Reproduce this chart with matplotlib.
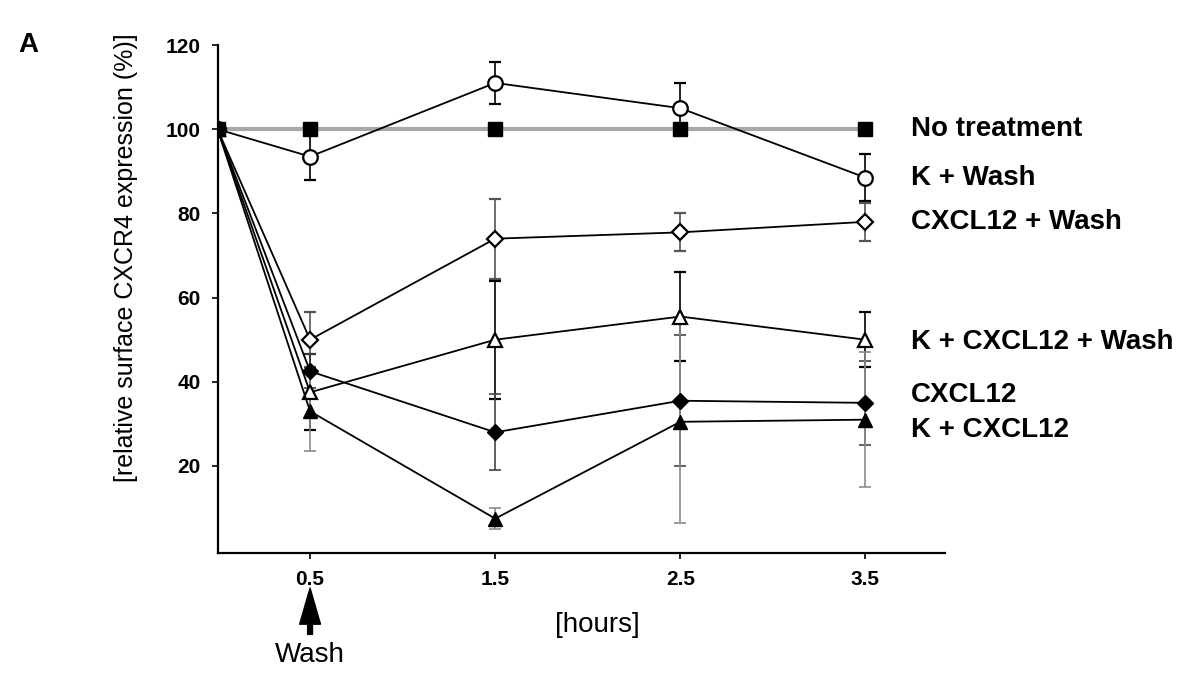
import matplotlib
matplotlib.use("Agg")
import matplotlib.pyplot as plt

plt.rcParams['font.family'] = ['Liberation Sans', 'DejaVu Sans']

# time points [hours]
hours = [0, 0.5, 1.5, 2.5, 3.5]
xtick_vals = [0.5, 1.5, 2.5, 3.5]
xtick_labels = ['0.5', '1.5', '2.5', '3.5']
ytick_vals = [20, 40, 60, 80, 100, 120]

# relative surface CXCR4 expression (%), mean and error
no_treat = [100, 100, 100, 100, 100]
k_wash = [100, 93.5, 111, 105, 88.5]
k_wash_err = [0, 5.5, 5, 6, 5.5]
cx_wash = [100, 50, 74, 75.5, 78]
cx_wash_err = [0, 6.5, 9.5, 4.5, 4.5]
k_cx_wash = [100, 37.5, 50, 55.5, 50]
k_cx_wash_err = [0, 9, 14, 10.5, 6.5]
cx = [100, 42.5, 28, 35.5, 35]
cx_err = [0, 4, 9, 15.5, 10]
k_cx = [100, 33, 7.5, 30.5, 31]
k_cx_err = [0, 9.5, 2.5, 24, 16]

names = ['No treatment', 'K + Wash', 'CXCL12 + Wash',
         'K + CXCL12 + Wash', 'CXCL12', 'K + CXCL12']

fig = plt.figure(figsize=(12.01, 6.73), dpi=100)
ax = fig.add_axes([0.1811, 0.1783, 0.6058, 0.7548])

# no treatment: thick grey line, black squares
ax.plot(hours, no_treat, color='#a8a8a8', lw=3, zorder=2)
ax.plot(hours[1:], no_treat[1:], ls='none', marker='s', ms=10, color='black', zorder=6)

common = dict(lw=1.3, capsize=4.5, capthick=1.2, elinewidth=1.2, color='black')
ax.errorbar(hours, k_wash, yerr=k_wash_err, marker='o', ms=10.5, mfc='white',
            mec='black', mew=1.6, ecolor='black', zorder=4, **common)
ax.errorbar(hours, cx_wash, yerr=cx_wash_err, marker='D', ms=8, mfc='white',
            mec='black', mew=1.6, ecolor='#555555', zorder=4, **common)
ax.errorbar(hours, k_cx_wash, yerr=k_cx_wash_err, marker='^', ms=10.5, mfc='white',
            mec='black', mew=1.6, ecolor='black', zorder=4, **common)
ax.errorbar(hours, cx, yerr=cx_err, marker='D', ms=8, mfc='black',
            mec='black', ecolor='#444444', zorder=4, **common)
ax.errorbar(hours, k_cx, yerr=k_cx_err, marker='^', ms=10.5, mfc='black',
            mec='black', ecolor='#8a8a8a', zorder=4, **common)
# starting point marker on top
ax.plot(hours[:1], no_treat[:1], ls='none', marker='s', ms=10, color='black', zorder=7)

ax.set_xlim(0, 3.93)
ax.set_ylim(-0.67, 120)
ax.set_xticks(xtick_vals)
ax.set_xticklabels(xtick_labels)
ax.set_yticks(ytick_vals)
for s in ['top', 'right']:
    ax.spines[s].set_visible(False)
for s in ['left', 'bottom']:
    ax.spines[s].set_linewidth(1.6)
ax.tick_params(direction='out', length=4, width=1.2, labelsize=15)
ax.tick_params(axis='x', pad=8)
ax.tick_params(axis='y', pad=8)
for lab in ax.get_xticklabels() + ax.get_yticklabels():
    lab.set_fontweight('bold')

# series labels on the right
label_y = [100, 88.5, 78, 49.5, 36.8, 28.5]
for name, yy in zip(names, label_y):
    ax.text(3.745, yy, name, fontsize=20, fontweight='bold', va='center',
            ha='left', clip_on=False)

fig.text(126 / 1201, 1 - 258 / 673, '[relative surface CXCR4 expression (%)]',
         rotation=90, ha='center', va='center', fontsize=18)
fig.text(597 / 1201, 1 - 625 / 673, '[hours]', ha='center', va='center', fontsize=20)
fig.text(18 / 1201, 1 - 45 / 673, 'A', ha='left', va='center', fontsize=20,
         fontweight='bold')

# wash arrow
ax.annotate('', xy=(0.5, -9), xytext=(0.5, -20),
            arrowprops=dict(facecolor='black', edgecolor='black', width=3.5,
                            headwidth=15, headlength=26, shrink=0),
            annotation_clip=False)
ax.text(0.5, -25, 'Wash', ha='center', va='center', fontsize=20, clip_on=False)

fig.savefig('out.png', dpi=100)
